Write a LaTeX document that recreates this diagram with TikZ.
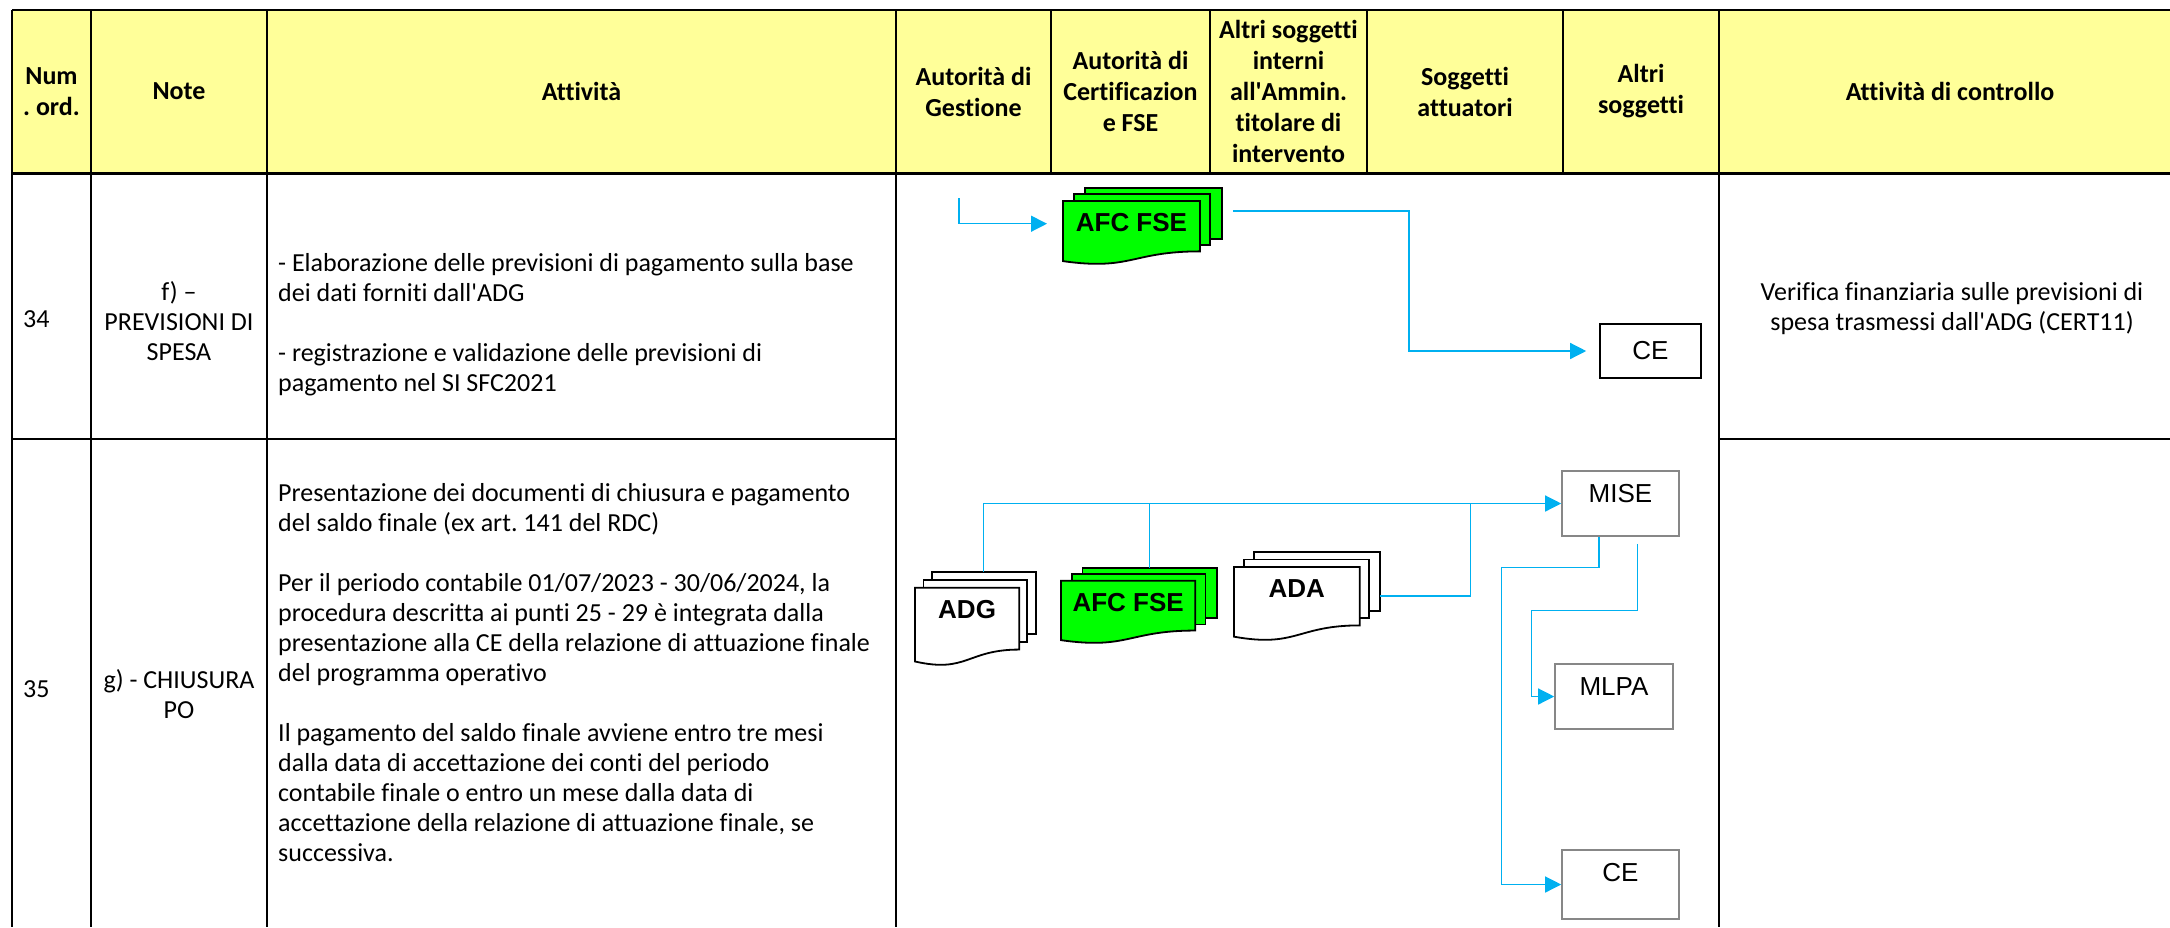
\documentclass[tikz,border=0pt]{standalone}
\usepackage{fontspec}
\setmainfont{Carlito}[Ligatures={TeX,NoCommon}]
\newfontfamily\arialfont{Liberation Sans}
\usetikzlibrary{arrows.meta}
\definecolor{headyellow}{HTML}{FFFF99}
\definecolor{flowblue}{HTML}{00B0F0}
\definecolor{docgreen}{HTML}{00FF00}
\definecolor{boxgray}{HTML}{878787}
\newcommand{\apos}{\textquotesingle}
\frenchspacing
\tikzset{
  tabline/.style={line width=2pt},
  head/.style={font=\fontsize{26}{31}\selectfont\bfseries, align=center, inner sep=0pt},
  body/.style={font=\fontsize{26}{30}\selectfont, inner sep=0pt},
  doctext/.style={font=\arialfont\fontsize{26}{31}\selectfont\bfseries, inner sep=0pt},
  line/.style={flowblue, line width=1.3pt},
  flow/.style={line, -{Triangle[length=16pt,width=16pt]}},
  ente/.style={draw=boxgray, line width=1.6pt, fill=white,
    font=\arialfont\fontsize{26}{31}\selectfont,
    minimum width=117pt, minimum height=65pt, inner xsep=0pt, inner ysep=12pt,
    text height=19pt, text depth=22pt},
  cebox/.style={draw=black, line width=1.6pt, fill=white,
    font=\arialfont\fontsize{26}{31}\selectfont,
    minimum width=101pt, minimum height=54pt, inner sep=0pt},
  pics/multidoc/.style n args={4}{code={
    \begin{scope}[line width=1.8pt, draw=black, fill=#3]
      \filldraw (0.1376*#1,0) rectangle (#1,0.666*#2);
      \filldraw (0.0709*#1,0.084*#2) rectangle (0.926*#1,0.752*#2);
      \filldraw (0,0.17*#2) -- (0.861*#1,0.17*#2) -- (0.861*#1,0.834*#2)
        .. controls (0.43*#1,0.834*#2) and (0.43*#1,1.09*#2) .. (0,0.962*#2) -- cycle;
    \end{scope}
    \node[doctext, anchor=base] (-label) at (0.4305*#1,0.17*#2+31) {#4};
    \coordinate (-n) at (0.5688*#1,0);
    \coordinate (-w) at (0,0.47*#2);
    \coordinate (-e) at (#1,0.5*#2);
  }}
}
\begin{document}
\begin{tikzpicture}[x=1pt,y=-1pt]
  \useasboundingbox (0,0) rectangle (2170,927);
  \clip (0,0) rectangle (2170,927);
  % tabella
  \fill[headyellow] (12,10) rectangle (2170,173);
  \draw[tabline] (12,10) -- (2170,10);
  \draw[line width=3pt] (12,173) -- (2170,173);
  \foreach \x in {12,91,267,896,1719}
    \draw[tabline] (\x,10) -- (\x,927);
  \foreach \x in {1051,1210,1367,1563}
    \draw[tabline] (\x,10) -- (\x,173);
  \draw[tabline] (12,439) -- (896,439);
  \draw[tabline] (1719,439) -- (2170,439);

  % intestazione
  \node[head] (hnum) at (51.5,91.5) {Num\\. ord.};
  \node[head] (hnote) at (179,91.5) {Note};
  \node[head] (hatt) at (581.5,91.5) {Attività};
  \node[head] (hadg) at (973.5,91.5) {Autorità di\\Gestione};
  \node[head] (hadc) at (1130.5,91.5) {Autorità di\\Certificazion\\e FSE};
  \node[head] (hint) at (1288.5,91.5) {Altri soggetti\\interni\\all\apos Ammin.\\titolare di\\intervento};
  \node[head] (hsa) at (1465,91.5) {Soggetti\\attuatori};
  \node[head] (halt) at (1641,91.5) {Altri\\soggetti};
  \node[head] (hctrl) at (1950,91.5) {Attività di controllo};

  % riga 34
  \node[body, anchor=base west] (n34) at (23,327) {34};
  \node[body, align=center] (note34) at (179,321) {f) –\\PREVISIONI DI\\SPESA};
  \node[body, align=left, anchor=west] (att34) at (278,325)
    {- Elaborazione delle previsioni di pagamento sulla base\\dei dati forniti dall\apos ADG\\[30pt]- registrazione e validazione delle previsioni di\\pagamento nel SI SFC2021};
  \node[body, align=center] (ctrl34) at (1952,308.5)
    {Verifica finanziaria sulle previsioni di\\spesa trasmessi dall\apos ADG (CERT11)};

  % riga 35
  \node[body, anchor=base west] (n35) at (23,697) {35};
  \node[body, align=center] (note35) at (179,694) {g) - CHIUSURA\\PO};
  \node[body, align=left, anchor=west] (att35) at (278,673)
    {Presentazione dei documenti di chiusura e pagamento\\
     del saldo finale (ex art. 141 del RDC)\\[30pt]
     Per il periodo contabile 01/07/2023 - 30/06/2024, la\\
     procedura descritta ai punti 25 - 29 è integrata dalla\\
     presentazione alla CE della relazione di attuazione finale\\
     del programma operativo\\[30pt]
     Il pagamento del saldo finale avviene entro tre mesi\\
     dalla data di accettazione dei conti del periodo\\
     contabile finale o entro un mese dalla data di\\
     accettazione della relazione di attuazione finale, se\\
     successiva.};

  % documenti
  \pic (afcA) at (1063,188) {multidoc={159}{76}{docgreen}{AFC FSE}};
  \pic (adg) at (915,572) {multidoc={121}{93}{white}{ADG}};
  \pic (afcB) at (1061,568) {multidoc={156}{75}{docgreen}{AFC FSE}};
  \pic (ada) at (1234,552) {multidoc={146}{88}{white}{ADA}};

  % destinatari
  \node[cebox] (ceA) at (1650.5,351) {CE};
  \node[ente] (mise) at (1620.5,503.5) {MISE};
  \node[ente, minimum width=118pt] (mlpa) at (1614,696.5) {MLPA};
  \node[ente, minimum height=69pt, text depth=26pt] (ceB) at (1620.5,884.5) {CE};

  % flussi
  \coordinate (inA) at (959,198);
  \coordinate (outA) at (1233,211);
  \draw[flow] (inA) |- ([xshift=-16pt]afcA-w);
  \draw[flow] (outA) -- ++(176,0) |- ([xshift=-13pt]ceA.west);
  \draw[flow] (adg-n) |- (mise.west);
  \draw[line] (afcB-n) -- (afcB-n |- mise.west);
  \draw[line] (ada-e) -| ([xshift=-91pt]mise.west);
  \draw[flow] ([xshift=-21.5pt]mise.south) -- ++(0,31) -| ([xshift=-60pt]ceB.west) -- (ceB.west);
  \draw[flow] ([shift={(17,7)}]mise.south) -- ++(0,67) -| ([xshift=-23pt]mlpa.west) -- (mlpa.west);
\end{tikzpicture}
\end{document}
